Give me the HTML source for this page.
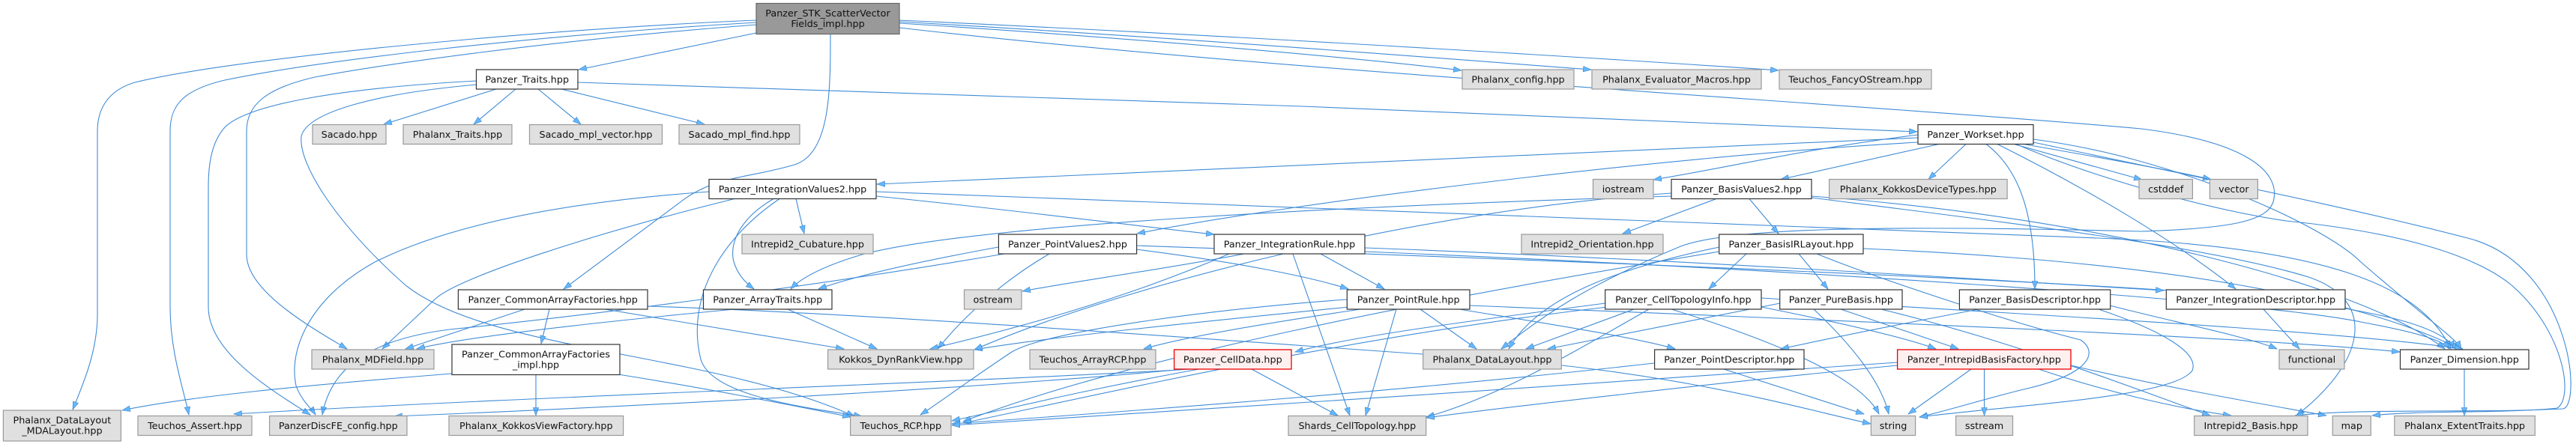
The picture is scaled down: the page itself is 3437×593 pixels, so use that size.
<!DOCTYPE html>
<html><head><meta charset="utf-8"><style>
html,body{margin:0;padding:0;background:#fff;}
svg{display:block;}
text{font-family:"DejaVu Sans","Liberation Sans",sans-serif;font-size:12.75px;fill:#111;text-anchor:middle;}
.e path{fill:none;stroke:#3f8bd6;stroke-width:1.1;}
.g{fill:#e0e0e0;stroke:#999;stroke-width:1.2;}
.w{fill:#fdfefd;stroke:#333;stroke-width:1.2;}
.r{fill:#fff0f0;stroke:#e00;stroke-width:1.3;}
.root{fill:#999;stroke:#666;stroke-width:1.2;}
</style></head><body>
<svg width="3437" height="593" viewBox="0 0 3437 593" xmlns="http://www.w3.org/2000/svg">
<defs>
<marker id="a" markerUnits="userSpaceOnUse" markerWidth="12" markerHeight="9" refX="11" refY="4.5" orient="auto">
<path d="M0.5,0.8 L11,4.5 L0.5,8.2 z" fill="#63b8ff" stroke="#3a7fc4" stroke-width="0.6"/>
</marker>
</defs>
<g class="e">
<!-- root -->
<path marker-end="url(#a)" d="M1009,27 C700,40 300,80 180,110 C140,122 130,150 130,175 L130,420 C130,470 110,515 97,547"/>
<path marker-end="url(#a)" d="M1009,30 C700,48 420,82 300,107 C245,120 227,140 227,175 L227,410 C227,470 245,520 252,554"/>
<path marker-end="url(#a)" d="M1009,33 C720,55 500,88 420,103 C355,118 329,140 329,175 L329,340 C329,390 420,440 463,466"/>
<path marker-end="url(#a)" d="M1009,44 L772,93"/>
<path marker-end="url(#a)" d="M1108,45.5 C1108,120 1108,205 1060,220 C1000,238 950,235 905,272 L752,386"/>
<path marker-end="url(#a)" d="M1200,31 C1500,50 1800,76 1950,94"/>
<path marker-end="url(#a)" d="M1200,29 C1600,52 1950,80 2123,93"/>
<path marker-end="url(#a)" d="M1200,27 C1700,50 2200,82 2373,94"/>
<path marker-end="url(#a)" d="M1200,37 C1700,95 2500,140 2857,172 C3000,190 3040,230 3034,265 C3030,295 2980,305 2857,309 C2500,300 2300,305 2240,330 C2120,380 2060,420 2003,466"/>
<!-- Traits -->
<path marker-end="url(#a)" d="M662,119 L512,166"/>
<path marker-end="url(#a)" d="M688,119 L632,166"/>
<path marker-end="url(#a)" d="M718,119 L775,166"/>
<path marker-end="url(#a)" d="M749,119 L940,166"/>
<path marker-end="url(#a)" d="M771,110 C1300,125 2000,150 2558,176"/>
<path marker-end="url(#a)" d="M636,108 C450,118 330,140 300,170 C282,190 278,220 278,250 L278,410 C278,470 360,520 414,554"/>
<path marker-end="url(#a)" d="M636,113 C500,125 410,150 402,182 C398,220 450,300 540,380 C650,470 950,470 1140,556"/>
<!-- IV2 -->
<path marker-end="url(#a)" d="M946,256 C750,270 600,300 500,350 C410,400 385,470 395,515 C402,535 415,545 421,554"/>
<path marker-end="url(#a)" d="M980,265.5 C800,310 610,370 580,400 L510,466"/>
<path marker-end="url(#a)" d="M1062,265.5 L1073,312"/>
<path marker-end="url(#a)" d="M1032,265.5 C990,290 975,320 978,345 C982,365 995,378 1006,386"/>
<path marker-end="url(#a)" d="M1040,265.5 C960,320 915,400 935,480 C950,530 1080,545 1150,556"/>
<path marker-end="url(#a)" d="M1169,262 C1350,280 1500,300 1620,313"/>
<path marker-end="url(#a)" d="M1169,256 C1700,275 2300,300 2800,318 C3100,330 3230,380 3270,466"/>
<!-- CAF -->
<path marker-end="url(#a)" d="M700,413 L541,466"/>
<path marker-end="url(#a)" d="M733,413 L722,459"/>
<path marker-end="url(#a)" d="M807,413 L1126,466"/>
<path marker-end="url(#a)" d="M864,409 C1200,420 1700,460 2000,480 C2250,500 2400,545 2496,566"/>
<!-- CAFimpl -->
<path marker-end="url(#a)" d="M715,500.5 L715,555"/>
<path marker-end="url(#a)" d="M603,499 C400,515 250,530 163,548"/>
<path marker-end="url(#a)" d="M825,500 C950,520 1050,540 1135,557"/>
<!-- ArrT -->
<path marker-end="url(#a)" d="M980,413 C800,430 620,450 556,466"/>
<path marker-end="url(#a)" d="M1051,413 L1170,466"/>
<!-- PV2 -->
<path marker-end="url(#a)" d="M1332,330 C1250,345 1150,365 1092,386"/>
<path marker-end="url(#a)" d="M1340,339 C1100,380 800,420 600,440 C480,455 440,500 430,554"/>
<path marker-end="url(#a)" d="M1516,333 C1650,350 1750,370 1799,386"/>
<path marker-end="url(#a)" d="M1400,339 C1330,380 1280,430 1251,466"/>
<path marker-end="url(#a)" d="M1516,328 C2000,345 2800,375 3050,400 C3200,420 3260,440 3276,466"/>
<!-- IR -->
<path marker-end="url(#a)" d="M1725,339 L1801,555"/>
<path marker-end="url(#a)" d="M1762,339 L1847,386"/>
<path marker-end="url(#a)" d="M1821,331 C2200,345 2600,370 2887,388"/>
<path marker-end="url(#a)" d="M1640,339 C1500,400 1350,440 1241,466"/>
<path marker-end="url(#a)" d="M1660,339 C1550,360 1420,378 1364,389"/>
<path marker-end="url(#a)" d="M1821,336 C2400,360 3000,400 3150,430 C3230,445 3260,455 3268,466"/>
<!-- PR -->
<path marker-end="url(#a)" d="M1863,413 L1822,555"/>
<path marker-end="url(#a)" d="M1895,413 L1970,466"/>
<path marker-end="url(#a)" d="M1797,400 C1650,410 1400,440 1350,470 C1290,510 1250,540 1228,554"/>
<path marker-end="url(#a)" d="M1947,413 C2050,430 2180,450 2235,466"/>
<path marker-end="url(#a)" d="M1815,413 C1700,430 1580,450 1526,466"/>
<path marker-end="url(#a)" d="M1800,410 C1600,430 1400,450 1300,467"/>
<path marker-end="url(#a)" d="M1961,408 C2500,430 3000,450 3202,470"/>
<!-- CellData -->
<path marker-end="url(#a)" d="M1600,493 C1450,520 1350,545 1270,562"/>
<path marker-end="url(#a)" d="M1670,493 L1785,555"/>
<path marker-end="url(#a)" d="M1590,493 C1300,510 700,530 312,553"/>
<path marker-end="url(#a)" d="M1580,493 C1300,520 800,545 526,556"/>
<!-- BV2 -->
<path marker-end="url(#a)" d="M2290,265.5 L2165,312"/>
<path marker-end="url(#a)" d="M2334,265.5 L2373,312"/>
<path marker-end="url(#a)" d="M2230,262 C1800,275 1300,300 1150,340 C1100,355 1070,370 1055,386"/>
<path marker-end="url(#a)" d="M2417,262 C2800,290 3150,380 3262,466"/>
<path marker-end="url(#a)" d="M2417,264 C2700,300 2950,330 3080,370 C3170,400 3160,480 3064,555"/>
<path marker-end="url(#a)" d="M2230,258 C1900,280 1500,380 1300,467"/>
<!-- BIRL -->
<path marker-end="url(#a)" d="M2330,339 L2280,386"/>
<path marker-end="url(#a)" d="M2400,339 L2439,386"/>
<path marker-end="url(#a)" d="M2294,330 C2150,360 2050,400 2013,466"/>
<path marker-end="url(#a)" d="M2294,336 C1900,400 1500,480 1285,563"/>
<path marker-end="url(#a)" d="M2486,332 C2900,350 3150,400 3282,466"/>
<path marker-end="url(#a)" d="M2424,339 C2500,370 2680,430 2776,454 C2800,470 2790,500 2700,520 C2640,535 2600,548 2561,557"/>
<!-- CTI -->
<path marker-end="url(#a)" d="M2180,413 L2036,466"/>
<path marker-end="url(#a)" d="M2230,413 C2350,450 2480,500 2507,553"/>
<path marker-end="url(#a)" d="M2200,413 C2100,470 2000,530 1903,557"/>
<path marker-end="url(#a)" d="M2145,410 C1800,450 1500,520 1285,565"/>
<path marker-end="url(#a)" d="M2142,405 C1950,430 1800,450 1728,470"/>
<path marker-end="url(#a)" d="M2350,398 C2700,420 3100,440 3286,466"/>
<!-- PB -->
<path marker-end="url(#a)" d="M2456,413 L2613,466"/>
<path marker-end="url(#a)" d="M2420,413 C2470,460 2510,510 2520,553"/>
<path marker-end="url(#a)" d="M2375,405 C2250,430 2150,450 2065,466"/>
<path marker-end="url(#a)" d="M2510,413 C2700,460 2850,520 2949,555"/>
<path marker-end="url(#a)" d="M2350,410 C2450,430 2540,450 2583,466"/>
<!-- BD -->
<path marker-end="url(#a)" d="M2640,413 C2550,430 2450,450 2376,466"/>
<path marker-end="url(#a)" d="M2815,408 C2900,430 3000,450 3038,466"/>
<path marker-end="url(#a)" d="M2800,413 C2880,440 2935,470 2925,495 C2900,530 2700,540 2561,557"/>
<!-- ID -->
<path marker-end="url(#a)" d="M3020,413 L3068,466"/>
<!-- PD -->
<path marker-end="url(#a)" d="M2300,493 L2487,553"/>
<path marker-end="url(#a)" d="M2207,485 C1900,520 1500,550 1270,566"/>
<!-- IBF -->
<path marker-end="url(#a)" d="M2630,493 L2546,553"/>
<path marker-end="url(#a)" d="M2647.5,493 L2647.5,555"/>
<path marker-end="url(#a)" d="M2720,493 C2800,520 2900,545 2977,555"/>
<path marker-end="url(#a)" d="M2532,488 C2300,510 2000,545 1903,558"/>
<path marker-end="url(#a)" d="M2763,488 C2900,520 3050,545 3104,555"/>
<path marker-end="url(#a)" d="M2532,484 C2200,510 1600,545 1270,568"/>
<!-- Dim -->
<path marker-end="url(#a)" d="M3288,493 L3288,555"/>
<!-- Workset -->
<path marker-end="url(#a)" d="M2559,180 C2400,200 2300,225 2206,240"/>
<path marker-end="url(#a)" d="M2587,192.5 L2376,239.5"/>
<path marker-end="url(#a)" d="M2623,192.5 L2573,239.5"/>
<path marker-end="url(#a)" d="M2687,192.5 L2858,240"/>
<path marker-end="url(#a)" d="M2700,192.5 C2800,210 2900,228 2950,239.5"/>
<path marker-end="url(#a)" d="M2650,192.5 C2700,230 2715,300 2715,386"/>
<path marker-end="url(#a)" d="M2665,192.5 C2780,250 2900,320 2983,386"/>
<path marker-end="url(#a)" d="M2713,186 C2900,210 3100,300 3150,350 C3230,420 3275,450 3284,466"/>
<path marker-end="url(#a)" d="M2690,192.5 C2800,240 2950,280 3050,295 C3200,310 3300,340 3350,380 C3420,440 3435,530 3412,545 C3350,552 3230,548 3165,555"/>
<path marker-end="url(#a)" d="M2713,190 C2900,230 3150,280 3300,320 C3430,360 3445,540 3420,546 C3300,552 3150,545 3062,555"/>
<path marker-end="url(#a)" d="M2559,184 C2200,200 1700,225 1170,246"/>
<path marker-end="url(#a)" d="M2559,190 C2200,210 1700,275 1517,312"/>
</g>

<!-- nodes -->
<rect class="root" x="1009" y="4.5" width="191" height="41"/>
<text x="1104.5" y="22">Panzer_STK_ScatterVector</text>
<text x="1104.5" y="36">Fields_impl.hpp</text>

<rect class="w" x="635.5" y="93" width="135.5" height="26"/><text x="703.25" y="110.3">Panzer_Traits.hpp</text>
<rect class="g" x="1951" y="93" width="149" height="26"/><text x="2025.5" y="110.3">Phalanx_config.hpp</text>
<rect class="g" x="2124" y="93" width="226" height="26"/><text x="2237" y="110.3">Phalanx_Evaluator_Macros.hpp</text>
<rect class="g" x="2374" y="93" width="203" height="26"/><text x="2475.5" y="110.3">Teuchos_FancyOStream.hpp</text>

<rect class="g" x="417" y="166.5" width="98" height="26"/><text x="466" y="183.8">Sacado.hpp</text>
<rect class="g" x="538" y="166.5" width="145" height="26"/><text x="610.5" y="183.8">Phalanx_Traits.hpp</text>
<rect class="g" x="706.5" y="166.5" width="177" height="26"/><text x="795" y="183.8">Sacado_mpl_vector.hpp</text>
<rect class="g" x="906" y="166.5" width="161" height="26"/><text x="986.5" y="183.8">Sacado_mpl_find.hpp</text>
<rect class="w" x="2559" y="166.5" width="154" height="26"/><text x="2636" y="183.8">Panzer_Workset.hpp</text>

<rect class="w" x="946" y="239.5" width="223" height="26"/><text x="1057.5" y="256.8">Panzer_IntegrationValues2.hpp</text>
<rect class="g" x="2125.5" y="239.5" width="80.5" height="26"/><text x="2165.75" y="256.8">iostream</text>
<rect class="w" x="2230" y="239.5" width="187" height="26"/><text x="2323.5" y="256.8">Panzer_BasisValues2.hpp</text>
<rect class="g" x="2440.6" y="239.5" width="237.5" height="26"/><text x="2559.35" y="256.8">Phalanx_KokkosDeviceTypes.hpp</text>
<rect class="g" x="2854" y="239.5" width="71.4" height="26"/><text x="2889.7" y="256.8">cstddef</text>
<rect class="g" x="2948.4" y="239.5" width="64" height="26"/><text x="2980.4" y="256.8">vector</text>

<rect class="g" x="990" y="313" width="175" height="26"/><text x="1077.5" y="330.3">Intrepid2_Cubature.hpp</text>
<rect class="w" x="1332.4" y="313" width="184.2" height="26"/><text x="1424.5" y="330.3">Panzer_PointValues2.hpp</text>
<rect class="w" x="1620" y="313" width="201" height="26"/><text x="1720.5" y="330.3">Panzer_IntegrationRule.hpp</text>
<rect class="g" x="2030" y="313" width="189" height="26"/><text x="2124.5" y="330.3">Intrepid2_Orientation.hpp</text>
<rect class="w" x="2293.7" y="313" width="192.3" height="26"/><text x="2389.85" y="330.3">Panzer_BasisIRLayout.hpp</text>

<rect class="w" x="611.4" y="387" width="252.6" height="26"/><text x="737.7" y="404.3">Panzer_CommonArrayFactories.hpp</text>
<rect class="w" x="938.5" y="387" width="171.5" height="26"/><text x="1024.25" y="404.3">Panzer_ArrayTraits.hpp</text>
<rect class="g" x="1286.5" y="387" width="76.5" height="26"/><text x="1324.75" y="404.3">ostream</text>
<rect class="w" x="1797.3" y="387" width="163.7" height="26"/><text x="1879.15" y="404.3">Panzer_PointRule.hpp</text>
<rect class="w" x="2141.7" y="387" width="208.3" height="26"/><text x="2245.85" y="404.3">Panzer_CellTopologyInfo.hpp</text>
<rect class="w" x="2374.7" y="387" width="163.3" height="26"/><text x="2456.35" y="404.3">Panzer_PureBasis.hpp</text>
<rect class="w" x="2614.4" y="387" width="201.3" height="26"/><text x="2715.05" y="404.3">Panzer_BasisDescriptor.hpp</text>
<rect class="w" x="2890.3" y="387" width="238.7" height="26"/><text x="3009.65" y="404.3">Panzer_IntegrationDescriptor.hpp</text>

<rect class="g" x="416" y="467" width="163" height="26"/><text x="497.5" y="484.3">Phalanx_MDField.hpp</text>
<rect class="w" x="603" y="460" width="224" height="40.5"/>
<text x="715" y="477.3">Panzer_CommonArrayFactories</text>
<text x="715" y="491.3">_impl.hpp</text>
<rect class="g" x="1104.6" y="467" width="194.4" height="26"/><text x="1201.8" y="484.3">Kokkos_DynRankView.hpp</text>
<rect class="g" x="1374" y="467" width="168" height="26"/><text x="1458" y="484.3">Teuchos_ArrayRCP.hpp</text>
<rect class="r" x="1566.6" y="467" width="156.4" height="26"/><text x="1644.8" y="484.3">Panzer_CellData.hpp</text>
<rect class="g" x="1898.7" y="467" width="184.6" height="26"/><text x="1991" y="484.3">Phalanx_DataLayout.hpp</text>
<rect class="w" x="2207.6" y="467" width="199.4" height="26"/><text x="2307.3" y="484.3">Panzer_PointDescriptor.hpp</text>
<rect class="r" x="2531.6" y="467" width="231.4" height="26"/><text x="2647.3" y="484.3">Panzer_IntrepidBasisFactory.hpp</text>
<rect class="g" x="3041" y="467" width="87" height="26"/><text x="3084.5" y="484.3">functional</text>
<rect class="w" x="3202.5" y="467" width="171.5" height="26"/><text x="3288.25" y="484.3">Panzer_Dimension.hpp</text>

<rect class="g" x="4.4" y="548" width="157" height="41"/>
<text x="82.9" y="565.5">Phalanx_DataLayout</text>
<text x="82.9" y="579.5">_MDALayout.hpp</text>
<rect class="g" x="184" y="555.5" width="152" height="26"/><text x="260" y="572.8">Teuchos_Assert.hpp</text>
<rect class="g" x="359.6" y="555.5" width="183.4" height="26"/><text x="451.3" y="572.8">PanzerDiscFE_config.hpp</text>
<rect class="g" x="599" y="555.5" width="232.6" height="26"/><text x="715.3" y="572.8">Phalanx_KokkosViewFactory.hpp</text>
<rect class="g" x="1134.6" y="555.5" width="134.4" height="26"/><text x="1201.8" y="572.8">Teuchos_RCP.hpp</text>
<rect class="g" x="1719" y="555.5" width="183.7" height="26"/><text x="1810.85" y="572.8">Shards_CellTopology.hpp</text>
<rect class="g" x="2496.4" y="555.5" width="59.2" height="26"/><text x="2526" y="572.8">string</text>
<rect class="g" x="2609.6" y="555.5" width="75.9" height="26"/><text x="2647.55" y="572.8">sstream</text>
<rect class="g" x="2927.7" y="555.5" width="151.3" height="26"/><text x="3003.35" y="572.8">Intrepid2_Basis.hpp</text>
<rect class="g" x="3112.3" y="555.5" width="51" height="26"/><text x="3137.8" y="572.8">map</text>
<rect class="g" x="3194.8" y="555.5" width="187.5" height="26"/><text x="3288.55" y="572.8">Phalanx_ExtentTraits.hpp</text>
</svg>
</body></html>
